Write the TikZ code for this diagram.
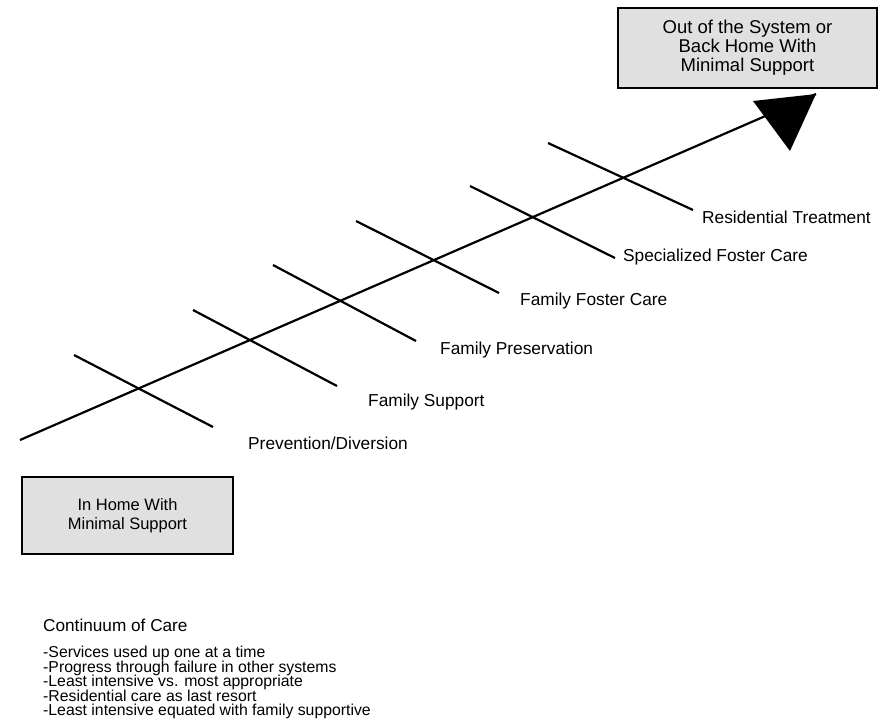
\documentclass[tikz,border=0pt]{standalone}
\usepackage{fontspec}
\setmainfont{Liberation Sans}
\tikzset{
  carebox/.style={draw, line width=1.5pt, fill=black!12, align=center,
    inner sep=0pt, font=\fontsize{17}{19}\selectfont},
  careline/.style={line width=2.2pt},
  carelabel/.style={anchor=west, inner sep=0pt, font=\fontsize{17.3}{20}\selectfont},
}
\begin{document}
\begin{tikzpicture}[x=1pt, y=-1pt]
    \useasboundingbox (0,0) rectangle (886,723);
    % end boxes
    \node[carebox, minimum width=259, minimum height=80,
      font=\fontsize{18.5}{19}\selectfont] (outbox) at (747.5,48)
      {Out of the System or\\Back Home With\\Minimal Support};
    \node[carebox, minimum width=211, minimum height=77,
      font=\fontsize{16.5}{19}\selectfont] (homebox) at (127.5,515.5)
      {In Home With\\Minimal Support};
    % main line with its head
    \coordinate (start) at (20,440);
    \coordinate (tip) at (816,94);
    \coordinate (headl) at (753,101);
    \coordinate (headr) at (790,151);
    \draw[careline] (start) -- (tip);
    \fill (tip) -- (headl) -- (headr) -- cycle;
    % cross strokes
    \draw[careline] (74,355) -- (213,427);
    \draw[careline] (193,310) -- (337,386);
    \draw[careline] (273,265) -- (416,341);
    \draw[careline] (356,221) -- (499,293);
    \draw[careline] (470,186) -- (615,258);
    \draw[careline] (548,143) -- (693,210);
    % stage labels
    \node[carelabel] (prevention) at (248,443) {Prevention/Diversion};
    \node[carelabel] (support) at (368,402) {Family Support};
    \node[carelabel] (preservation) at (440,350) {Family Preservation};
    \node[carelabel] (fostercare) at (520,301) {Family Foster Care};
    \node[carelabel] (specialized) at (623,257) {Specialized Foster Care};
    \node[carelabel] (residential) at (702,217) {Residential Treatment};
    % notes
    \node[anchor=west, inner sep=0pt, font=\fontsize{17.2}{20}\selectfont] (notehead)
      at (43,625) {Continuum of Care};
    \node[anchor=north west, inner sep=0pt, align=left,
      font={\fontsize{15.8}{14.5}\selectfont\lineskiplimit=-20pt}] (notelist) at (43,646)
      {-Services used up one at a time\\
       -Progress through failure in other systems\\
       -Least intensive vs. most appropriate\\
       -Residential care as last resort\\
       -Least intensive equated with family supportive};
\end{tikzpicture}
\end{document}
